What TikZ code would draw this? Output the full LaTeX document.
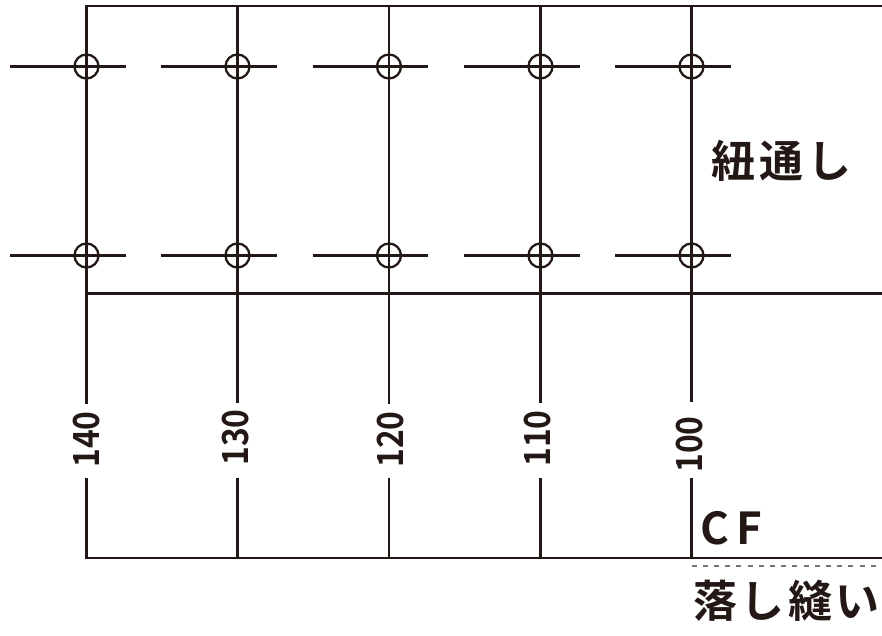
\documentclass[tikz,border=0pt]{standalone}
\usepackage{fontspec}
\newfontfamily\jpfont{Noto Sans CJK JP Bold}
\definecolor{ink}{HTML}{231815}
\tikzset{
  rule/.style={draw=ink,line width=2.3pt},
  hair/.style={draw=ink,line width=2.2pt},
  ringnode/.style={circle,draw=ink,line width=2.3pt,minimum size=24pt,inner sep=0pt},
  numlabel/.style={text=ink,font=\jpfont\fontsize{30}{30}\selectfont,rotate=90,inner sep=0pt,xscale=1.06,yscale=1.2},
  jplabel/.style={text=ink,font=\jpfont\fontsize{44}{44}\selectfont,inner sep=0pt,anchor=west},
}
\begin{document}
\begin{tikzpicture}[x=1pt,y=-1pt]
\useasboundingbox (0,0) rectangle (882,636);
\fill[white] (0,0) rectangle (882,636);
\coordinate (tl) at (85.3,6);
\coordinate (tr) at (882,6);
\coordinate (ml) at (86.5,293.5);
\coordinate (mr) at (882,293.5);
\coordinate (bl) at (85.3,558);
\coordinate (br) at (882,558);
\draw[rule] (tl) -- (tr);
\draw[rule] (ml) -- (mr);
\draw[rule] (bl) -- (br);
\foreach \n/\x/\lx/\ly/\gt/\gb in {140/86.5/87/439.5/404/478,130/237.5/236/437.5/403/478,120/389/391/439.5/404/478,110/540.5/538/438.5/403/478,100/691.5/690/444.5/402/478}{
  \coordinate (t\n) at (\x,6);
  \coordinate (g\n) at (\x,\gt);
  \coordinate (h\n) at (\x,\gb);
  \coordinate (b\n) at (\x,558);
  \draw[rule] (t\n) -- (g\n);
  \draw[rule] (h\n) -- (b\n);
  \node[numlabel] (lab\n) at (\lx,\ly) {\n};
  \foreach \r/\y in {a/66.5,b/255.5}{
    \node[ringnode] (ring\r\n) at (\x,\y) {};
    \coordinate (w\r\n) at (\x-76.5,\y);
    \coordinate (e\r\n) at (\x+39,\y);
    \draw[hair] (w\r\n) -- (e\r\n);
  }
}
\coordinate (da) at (691.5,566);
\coordinate (db) at (882,566);
\draw[draw=ink!60,line width=1.3pt,dash pattern=on 5pt off 6.2pt] (da) -- (db);
\node[jplabel] (tsuu) at (711,161) {紐\hspace{4pt}通\hspace{4pt}し};
\node[text=ink,font=\jpfont\fontsize{44}{44}\selectfont,inner sep=0pt,anchor=west] (cf) at (700,528) {C\hspace{7pt}F};
\node[jplabel] (otoshi) at (693,601) {落\hspace{3.5pt}し\hspace{3.5pt}縫\hspace{3.5pt}い};
\end{tikzpicture}
\end{document}
